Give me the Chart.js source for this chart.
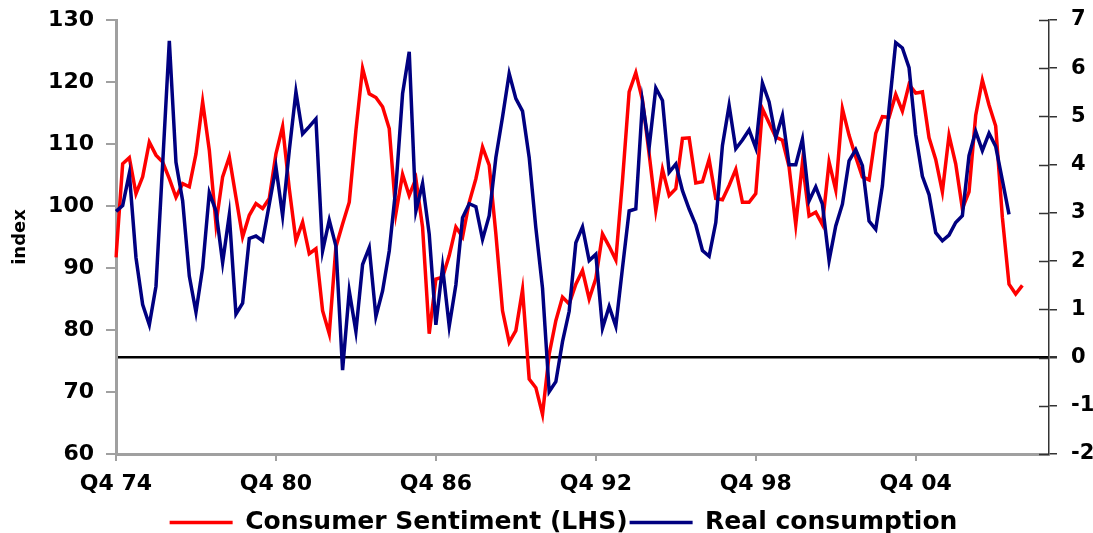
<!DOCTYPE html>
<html>
<head>
<meta charset="utf-8">
<script src="https://cdn.jsdelivr.net/npm/chart.js@4.4.1/dist/chart.umd.min.js"></script>
<style>
    body { margin: 0; background: #ffffff; }
    #wrap { width: 1093px; height: 533px; position: relative; }
</style>
</head>
<body>
<div id="wrap"><canvas id="sentimentChart"></canvas></div>
<script>
// Consumer sentiment vs real consumption, quarterly from Q4 74

const tickLabels = ['Q4 74', 'Q4 80', 'Q4 86', 'Q4 92', 'Q4 98', 'Q4 04'];

// quarter labels Q4 74 .. Q4 09
const quarters = [];
for (let k = 0; k < 141; k++) {
    const q = (3 + k) % 4 + 1;
    const yr = (74 + Math.floor((3 + k) / 4)) % 100;
    quarters.push('Q' + q + ' ' + String(yr).padStart(2, '0'));
}

// index, left axis
const sentiment = [
    91.7, 106.8, 107.8, 102.0, 104.7, 110.3, 108.2, 107.1, 104.4, 101.4,
    103.6, 103.1, 108.4, 116.8, 109.0, 97.1, 104.7, 107.9, 101.4, 95.0,
    98.5, 100.4, 99.6, 101.2, 108.4, 112.8, 102.8, 94.4, 97.4, 92.3,
    93.1, 83.1, 79.4, 93.4, 97.1, 100.6, 112.2, 122.2, 118.1, 117.5,
    116.0, 112.5, 98.8, 105.1, 101.7, 104.4, 96.6, 79.4, 88.2, 88.5,
    92.0, 96.6, 95.0, 100.6, 104.4, 109.5, 106.6, 95.5, 83.1, 78.0,
    79.9, 86.5, 72.1, 70.7, 66.4, 76.1, 81.5, 85.3, 84.2, 87.4,
    89.6, 85.0, 88.3, 95.5, 93.5, 91.3, 104.1, 118.4, 121.5, 117.1,
    108.4, 99.3, 105.9, 101.7, 102.8, 110.9, 111.0, 103.7, 103.9, 107.5,
    101.2, 101.0, 103.3, 105.9, 100.6, 100.6, 102.0, 115.7, 113.4, 111.1,
    110.6, 106.3, 97.0, 107.0, 98.4, 99.0, 97.0, 107.1, 102.6, 115.7,
    111.4, 107.9, 104.7, 104.2, 111.7, 114.4, 114.3, 118.0, 115.3, 119.6,
    118.2, 118.4, 111.0, 107.5, 102.3, 111.4, 106.8, 99.6, 102.3, 114.6,
    120.3, 116.3, 112.9, 98.2, 87.4, 85.8, 87.2
];

// % y/y, right axis
const consumption = [
    3.03, 3.15, 3.82, 2.07, 1.10, 0.68, 1.48, 4.01, 6.57, 4.05,
    3.25, 1.69, 0.94, 1.86, 3.42, 3.04, 1.97, 2.96, 0.90, 1.13,
    2.47, 2.52, 2.42, 3.18, 3.95, 2.94, 4.29, 5.51, 4.64, 4.79,
    4.95, 2.21, 2.85, 2.31, -0.26, 1.38, 0.54, 1.93, 2.28, 0.85,
    1.38, 2.21, 3.53, 5.47, 6.34, 3.04, 3.61, 2.56, 0.68, 1.88,
    0.65, 1.51, 2.90, 3.19, 3.13, 2.45, 2.94, 4.15, 4.99, 5.89,
    5.37, 5.11, 4.15, 2.69, 1.44, -0.71, -0.50, 0.33, 0.96, 2.38,
    2.71, 2.01, 2.14, 0.61, 1.06, 0.65, 1.86, 3.04, 3.08, 5.30,
    4.36, 5.59, 5.33, 3.84, 4.01, 3.46, 3.08, 2.75, 2.22, 2.10,
    2.80, 4.40, 5.23, 4.33, 4.51, 4.72, 4.35, 5.69, 5.30, 4.56,
    5.02, 4.00, 4.00, 4.53, 3.25, 3.54, 3.18, 2.01, 2.73, 3.18,
    4.08, 4.31, 3.98, 2.83, 2.66, 3.56, 5.16, 6.53, 6.42, 6.01,
    4.62, 3.76, 3.38, 2.59, 2.42, 2.54, 2.80, 2.94, 4.19, 4.69,
    4.29, 4.65, 4.38, 3.68, 2.97
];

const FONT = 'DejaVu Sans';

// small inward tick marks on the right axis, like the original
const innerTicks = {
    id: 'innerTicks',
    afterDraw(chart) {
        const s = chart.scales.y1;
        const ctx = chart.ctx;
        ctx.save();
        ctx.strokeStyle = '#333333';
        ctx.lineWidth = 1.5;
        s.ticks.forEach(t => {
            const py = Math.round(s.getPixelForValue(t.value)) + 0.5;
            ctx.beginPath();
            ctx.moveTo(s.left - 10, py);
            ctx.lineTo(s.left, py);
            ctx.stroke();
        });
        ctx.restore();
    }
};

// fixed axis sizes; drop the label overflow padding so the top is set by layout.padding
function fixWidth(w) {
    return (scale) => {
        scale.width = w;
        scale.paddingTop = 0;
        scale.paddingBottom = 0;
    };
}

const chart = new Chart(document.getElementById('sentimentChart'), {
    type: 'line',
    data: {
        labels: quarters,
        datasets: [{
            label: 'Consumer Sentiment (LHS)',
            data: sentiment,
            yAxisID: 'y',
            borderColor: '#ff0000',
            backgroundColor: '#ff0000',
            borderWidth: 3.5,
            pointRadius: 0,
            tension: 0,
            order: 1
        }, {
            label: 'Real consumption',
            data: consumption,
            yAxisID: 'y1',
            borderColor: '#000080',
            backgroundColor: '#000080',
            borderWidth: 3.5,
            pointRadius: 0,
            tension: 0,
            order: 0
        }]
    },
    options: {
        responsive: true,
        maintainAspectRatio: false,
        animation: false,
        layout: {
            // negative right/bottom padding lets the legend sit off-centre and low, as in the original
            padding: { top: 20, left: 0, right: -34, bottom: -12 }
        },
        plugins: {
            legend: {
                position: 'bottom',
                labels: {
                    boxWidth: 63,
                    boxHeight: 0,
                    padding: 2,
                    color: '#000000',
                    font: { family: FONT, size: 25, weight: 'bold' },
                    sort: (a, b) => a.datasetIndex - b.datasetIndex
                }
            },
            tooltip: { enabled: false }
        },
        scales: {
            x: {
                type: 'category',
                offset: false,
                afterFit: (scale) => { scale.height = 54; },
                border: { color: '#a0a0a0', width: 3 },
                grid: {
                    drawOnChartArea: false,
                    drawTicks: true,
                    tickLength: 7,
                    lineWidth: 2,
                    color: (ctx) => tickLabels.includes(quarters[ctx.index]) ? '#a0a0a0' : 'rgba(0,0,0,0)'
                },
                ticks: {
                    autoSkip: false,
                    maxRotation: 0,
                    padding: 10,
                    color: '#000000',
                    font: { family: FONT, size: 22, weight: 'bold' },
                    callback: function(value, index) {
                        const lab = quarters[index];
                        return tickLabels.includes(lab) ? lab : '';
                    }
                }
            },
            y: {
                position: 'left',
                min: 60,
                max: 130,
                afterFit: fixWidth(116),
                border: { color: '#a0a0a0', width: 3 },
                grid: {
                    drawOnChartArea: false,
                    tickLength: 10,
                    lineWidth: 2,
                    color: '#a0a0a0'
                },
                ticks: {
                    stepSize: 10,
                    padding: 12,
                    color: '#000000',
                    font: { family: FONT, size: 22, weight: 'bold' }
                },
                title: {
                    display: true,
                    text: 'index',
                    color: '#000000',
                    padding: { top: 10, bottom: 0 },
                    font: { family: FONT, size: 18, weight: 'bold' }
                }
            },
            y1: {
                position: 'right',
                min: -2,
                max: 7,
                afterFit: fixWidth(78),
                border: { color: '#333333', width: 1.5 },
                grid: {
                    drawOnChartArea: true,
                    tickLength: 8,
                    lineWidth: (ctx) => ctx.tick && ctx.tick.value === 0 ? 2.5 : 1.5,
                    color: (ctx) => ctx.tick && ctx.tick.value === 0 ? '#000000' : 'rgba(0,0,0,0)',
                    tickColor: '#333333'
                },
                ticks: {
                    stepSize: 1,
                    padding: 14,
                    color: '#000000',
                    font: { family: FONT, size: 21, weight: 'bold' }
                }
            }
        }
    },
    plugins: [innerTicks]
});
</script>
</body>
</html>
